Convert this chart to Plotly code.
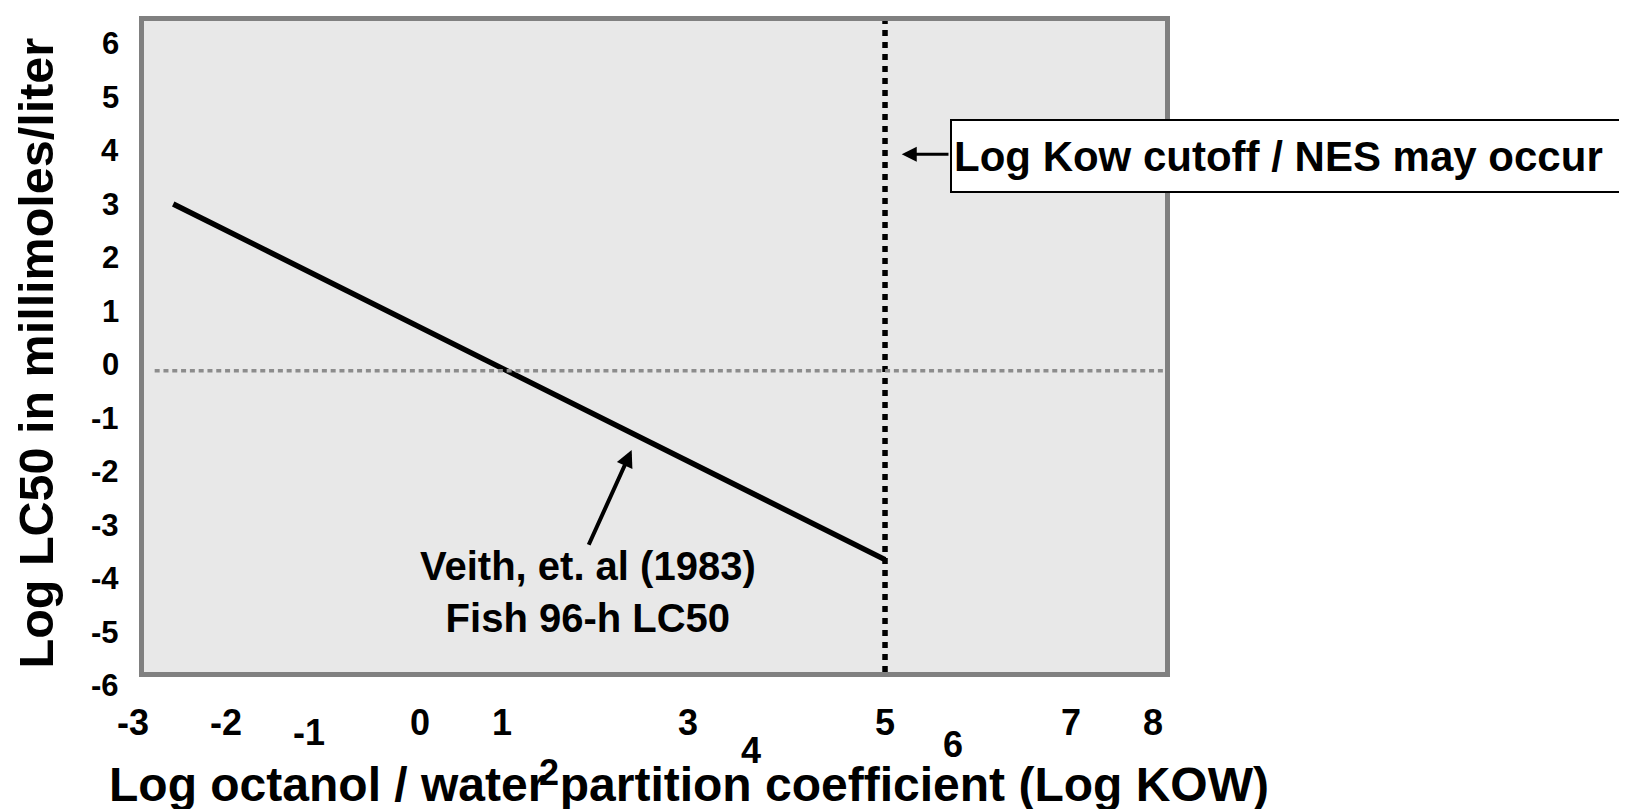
import plotly.graph_objects as go

# ---------------- data ----------------
veith_log_kow = [-2.67, 5.0]          # Log KOW
veith_log_lc50 = [3.12, -3.53]        # Log LC50 (mmol/L)
kow_cutoff = 5.0
reference_lc50 = 0.0
reference_line_start = -2.87

x_tick_values = [-3, -2, -1, 0, 1, 2, 3, 4, 5, 6, 7, 8]
x_tick_labels = ["-3", "-2", "-1", "0", "1", "2", "3", "4", "5", "6", "7", "8"]
y_tick_values = [6, 5, 4, 3, 2, 1, 0, -1, -2, -3, -4, -5, -6]
y_tick_labels = ["6", "5", "4", "3", "2", "1", "0", "-1", "-2", "-3", "-4", "-5", "-6"]
minor_mark_x = [-2.07, -1.10, -0.15, 0.72, 1.67, 2.63, 3.63, 4.69, 5.66, 6.61]

veith_arrow_head = (2.27, -1.48)
veith_arrow_tail = (1.80, -3.28)
veith_text_pos = (1.80, -4.13)
cutoff_arrow_head = (5.18, 4.05)
cutoff_arrow_tail = (5.70, 4.05)

# ---------------- styles / layout ----------------
PAGE_OFF = 8                      # default body margin of the html page
W, H = 1627 - PAGE_OFF, 809 - PAGE_OFF
ML, MR, MT, MB = 136, 462, 8, 137
X_RANGE = [-2.985, 8.017]
Y_RANGE = [-5.631, 6.540]
PLOT_W = W - ML - MR
PLOT_H = H - MT - MB
PX_PER_Y = PLOT_H / (Y_RANGE[1] - Y_RANGE[0])


def paper_x(v):
    return (v - X_RANGE[0]) / (X_RANGE[1] - X_RANGE[0])


def paper_y(v):
    return (v - Y_RANGE[0]) / (Y_RANGE[1] - Y_RANGE[0])


def page_px_to_paper(px, py):
    return ((px - PAGE_OFF - ML) / PLOT_W, ((H - MB) - (py - PAGE_OFF)) / PLOT_H)


FONT = "Liberation Sans, Arial, Helvetica, sans-serif"
x_tick_xshift = [-10, -9, -19, -1, -12, -58, -11, -41, 0, -25, 0, -10]
x_tick_below_px = [50, 50, 60, 50, 50, 100, 50, 78, 50, 72, 50, 50]

fig = go.Figure()

fig.add_trace(go.Scatter(
    x=veith_log_kow, y=veith_log_lc50, mode="lines",
    line=dict(color="black", width=5.5), hoverinfo="skip", showlegend=False))

# small leftover tick dashes under the frame
fig.add_trace(go.Scatter(
    x=minor_mark_x, y=[Y_RANGE[0] - 12 / PX_PER_Y] * len(minor_mark_x),
    mode="markers", cliponaxis=False,
    marker=dict(symbol="line-ew", size=5, line=dict(width=2, color="#b0b0b0")),
    hoverinfo="skip", showlegend=False))

shapes = [
    dict(type="line", xref="x", yref="paper", x0=kow_cutoff, x1=kow_cutoff, y0=0, y1=1,
         line=dict(color="black", width=5.5, dash="6px,6px")),
    dict(type="line", xref="x", yref="y", x0=reference_line_start, x1=X_RANGE[1],
         y0=reference_lc50, y1=reference_lc50,
         line=dict(color="#8c8c8c", width=3.5, dash="5px,3.8px")),
]

annotations = []
for v, t, dx, dy in zip(x_tick_values, x_tick_labels, x_tick_xshift, x_tick_below_px):
    annotations.append(dict(
        x=paper_x(v), y=0, xref="paper", yref="paper", text=t, showarrow=False,
        xanchor="center", yanchor="middle", xshift=dx, yshift=-dy,
        font=dict(family=FONT, size=36, color="black", weight="bold")))
for v, t in zip(y_tick_values, y_tick_labels):
    annotations.append(dict(
        x=0, y=paper_y(v), xref="paper", yref="paper", text=t, showarrow=False,
        xanchor="right", yanchor="middle", xshift=-23, yshift=6,
        font=dict(family=FONT, size=31, color="black", weight="bold")))

# axis titles
tx, ty = page_px_to_paper(689, 785)
annotations.append(dict(
    x=tx, y=ty, xref="paper", yref="paper",
    text="Log octanol / water partition coefficient (Log KOW)", showarrow=False,
    xanchor="center", yanchor="middle",
    font=dict(family=FONT, size=48, color="black", weight="bold")))
tx, ty = page_px_to_paper(36, 351)
annotations.append(dict(
    x=tx, y=ty, xref="paper", yref="paper",
    text="Log LC50 in millimoles/liter", showarrow=False, textangle=-90,
    xanchor="center", yanchor="middle",
    font=dict(family=FONT, size=48.5, color="black", weight="bold")))

# Veith annotation
annotations.append(dict(
    x=veith_text_pos[0], y=veith_text_pos[1], xref="x", yref="y",
    text="Veith, et. al (1983)<br>Fish 96-h LC50", showarrow=False,
    xanchor="center", yanchor="middle", align="center",
    font=dict(family=FONT, size=40, color="black", weight="bold")))
annotations.append(dict(
    x=veith_arrow_head[0], y=veith_arrow_head[1], xref="x", yref="y",
    ax=veith_arrow_tail[0], ay=veith_arrow_tail[1], axref="x", ayref="y",
    text="", showarrow=True, arrowhead=2, arrowsize=0.85, arrowwidth=4, arrowcolor="black"))

# cutoff callout
tx, ty = page_px_to_paper(950, 152)
annotations.append(dict(
    x=tx, y=ty, xref="paper", yref="paper",
    text="Log Kow cutoff / NES may occur", showarrow=False,
    xanchor="left", yanchor="middle", align="left", width=720, height=66,
    bgcolor="white", bordercolor="black", borderwidth=2, borderpad=2,
    font=dict(family=FONT, size=42, color="black", weight="bold")))
annotations.append(dict(
    x=cutoff_arrow_head[0], y=cutoff_arrow_head[1], xref="x", yref="y",
    ax=cutoff_arrow_tail[0], ay=cutoff_arrow_tail[1], axref="x", ayref="y",
    text="", showarrow=True, arrowhead=2, arrowsize=1, arrowwidth=3, arrowcolor="black"))

fig.update_layout(
    width=W, height=H,
    margin=dict(l=ML, r=MR, t=MT, b=MB, pad=0),
    paper_bgcolor="white", plot_bgcolor="#e8e8e8",
    shapes=shapes, annotations=annotations, showlegend=False,
    xaxis=dict(range=X_RANGE, showgrid=False, zeroline=False, showticklabels=False,
               ticks="", showline=True, linecolor="#808080", linewidth=4.5, mirror=True,
               fixedrange=True),
    yaxis=dict(range=Y_RANGE, showgrid=False, zeroline=False, showticklabels=False,
               ticks="", showline=True, linecolor="#808080", linewidth=4.5, mirror=True,
               fixedrange=True),
)

fig.write_html("out.html", config={"displayModeBar": False})
